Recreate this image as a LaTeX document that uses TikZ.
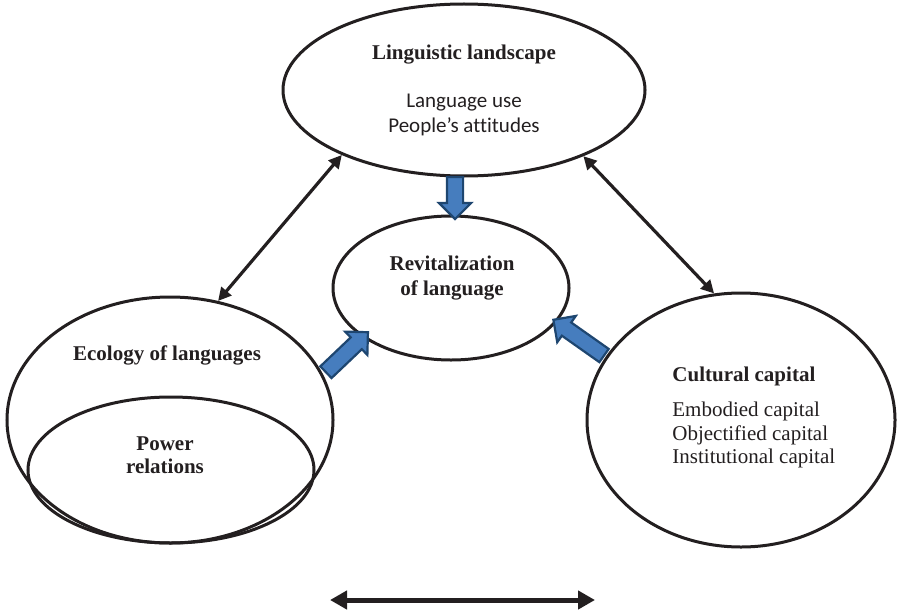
\documentclass[tikz,border=0pt]{standalone}
\usepackage{fontspec}
\setmainfont{Liberation Serif}
\newfontfamily\calibrifont[Ligatures=NoCommon]{Carlito}
\usepackage{xcolor}
\usetikzlibrary{shapes.geometric,shapes.arrows,arrows.meta}

\definecolor{ink}{RGB}{35,31,32}
\definecolor{flowfill}{RGB}{70,125,190}
\definecolor{flowedge}{RGB}{30,70,112}

\begin{document}
\begin{tikzpicture}[
    x=0.5pt,y=-0.5pt,
    oval/.style={draw=ink,ellipse,line width=1.5pt,inner sep=0pt},
    head/.style={font=\fontsize{10.5}{12.5}\selectfont\bfseries,text=ink,align=center,inner sep=0pt},
    txt/.style={font=\fontsize{10.5}{12}\selectfont,text=ink,align=left,inner sep=0pt},
    link/.style={draw=ink,line width=1.6pt,{Triangle[length=6.5pt,width=6.5pt]}-{Triangle[length=6.5pt,width=6.5pt]}},
    flow/.style={single arrow,draw=flowedge,fill=flowfill,line width=1.1pt,inner xsep=0pt,inner ysep=3.5pt,single arrow head extend=4pt},
]
    \useasboundingbox (0,0) rectangle (898,615);

    % ovals
    \node[oval,minimum width=181pt,minimum height=86pt] (ll) at (464,90) {};
    \node[oval,minimum width=118pt,minimum height=72pt] (rev) at (451,288) {};
    \node[oval,minimum width=163pt,minimum height=123pt] (eco) at (170,420) {};
    \node[oval,minimum width=143pt,minimum height=73pt] (pow) at (171,470) {};
    \node[oval,minimum width=154pt,minimum height=127pt] (cult) at (741,420) {};

    % texts
    \node[head] (llt) at (464,55) {Linguistic landscape};
    \node[txt,align=center,font=\fontsize{10.5}{12.5}\selectfont\calibrifont] (lltx) at (464,115) {Language use\\People’s attitudes};
    \node[head] (revt) at (452,278) {Revitalization\\of language};
    \node[head] (ecot) at (167,355) {Ecology of languages};
    \node[head,font=\fontsize{10.5}{11.75}\selectfont\bfseries] (powt) at (165,455) {Power\\relations};
    \node[head,anchor=west] (cultt) at (672,376) {Cultural capital};
    \node[txt,anchor=west,font=\fontsize{10.5}{11.75}\selectfont] (cultx) at (672,435) {Embodied capital\\Objectified capital\\Institutional capital};

    % links
    \draw[link] (ll.208) -- (eco.68);
    \draw[link] (ll.331) -- (cult.102);
    \coordinate (bl) at (330,600);
    \coordinate (br) at (595,600);
    \draw[draw=ink,line width=2.5pt,{Triangle[length=8.5pt,width=9pt]}-{Triangle[length=8.5pt,width=9pt]}] (bl) -- (br);

    % block arrows
    \node[flow,rotate=-90,minimum height=21pt] (fa) at (455,194) {};
    \node[flow,rotate=43.6,minimum height=29pt] (fb) at (344,355) {};
    \node[flow,rotate=144.8,minimum height=31pt] (fc) at (582,340) {};
\end{tikzpicture}
\end{document}
